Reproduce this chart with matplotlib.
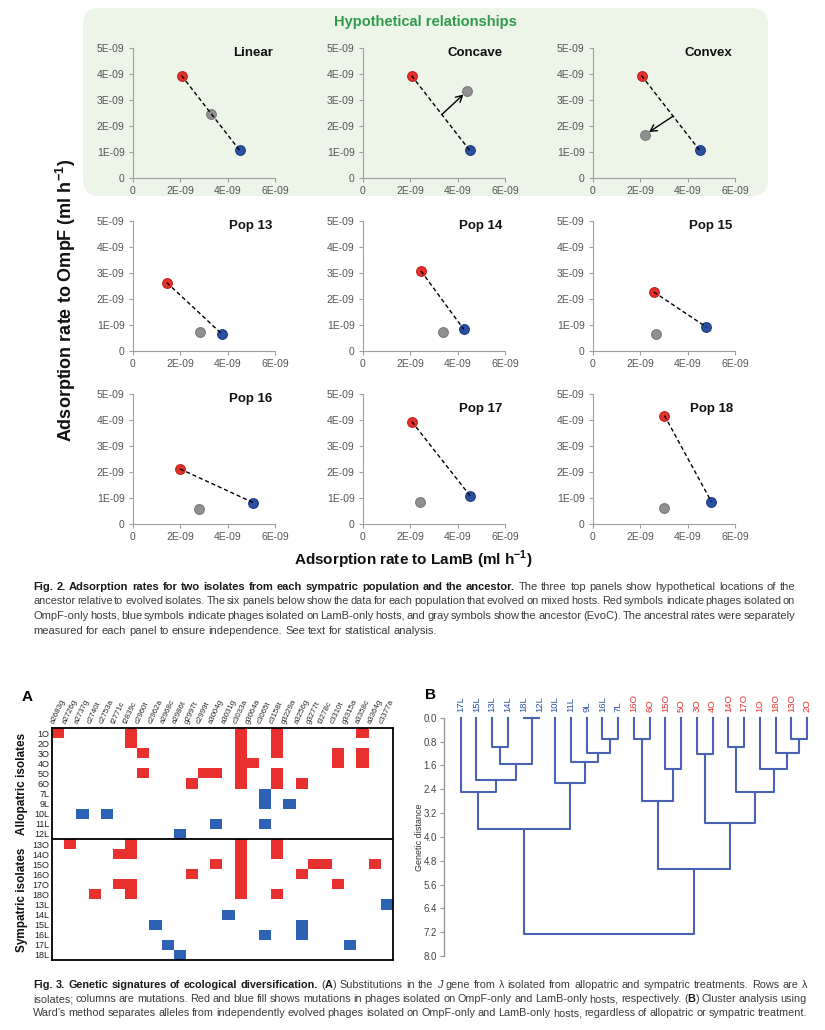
import numpy as np
import matplotlib.pyplot as plt
from matplotlib.patches import FancyBboxPatch
from matplotlib.colors import ListedColormap
from matplotlib.transforms import IdentityTransform

W, H = 825, 1030
NARROW = ['Liberation Sans Narrow', 'Liberation Sans', 'DejaVu Sans']
SANS = ['Liberation Sans', 'DejaVu Sans']
plt.rcParams['font.family'] = NARROW
plt.rcParams['mathtext.fontset'] = 'custom'
plt.rcParams['mathtext.rm'] = 'Liberation Sans'
plt.rcParams['mathtext.bf'] = 'Liberation Sans:bold'

RED, RED_E = '#e8302a', '#c01f1a'
BLUE, BLUE_E = '#2b50a2', '#1b3a84'
GRAY, GRAY_E = '#909090', '#7a7a7a'

# ---------------- Fig. 2 data (units of 1E-09) ----------------
panel_titles = ['Linear', 'Concave', 'Convex', 'Pop 13', 'Pop 14', 'Pop 15',
                'Pop 16', 'Pop 17', 'Pop 18']
title_y = [4.81, 4.81, 4.81, 4.80, 4.80, 4.80, 4.79, 4.43, 4.43]
red_x = [2.05, 2.05, 2.05, 1.43, 2.45, 2.57, 1.98, 2.06, 3.02]
red_y = [3.94, 3.94, 3.94, 2.63, 3.08, 2.27, 2.12, 3.94, 4.17]
anc_x = [3.29, 4.38, 2.18, 2.83, 3.36, 2.66, 2.79, 2.40, 3.02]
anc_y = [2.47, 3.33, 1.67, 0.73, 0.73, 0.64, 0.56, 0.86, 0.60]
blue_x = [4.51, 4.51, 4.51, 3.77, 4.26, 4.79, 5.09, 4.53, 5.00]
blue_y = [1.06, 1.06, 1.06, 0.64, 0.83, 0.92, 0.82, 1.08, 0.86]
# arrows in the hypothetical panels: panel -> (start, end)
arrows = {1: ((3.33, 2.44), (4.24, 3.21)), 2: ((3.37, 2.37), (2.37, 1.77))}
x_ticks = [0, 2, 4, 6]
x_ticklabels = ['0', '2E-09', '4E-09', '6E-09']
y_ticks = [0, 1, 2, 3, 4, 5]
y_ticklabels = ['0', '1E-09', '2E-09', '3E-09', '4E-09', '5E-09']

# ---------------- Fig. 3A data ----------------
mutations = ['a2683g', 'a2726g', 'a2737g', 'c2740t', 'c2753a', 't2771c', 't2839c',
             'c2960t', 'c2962a', 'a2968c', 'a2986t', 'g2997t', 'c2999t', 'a3004g',
             'a3031g', 'c3033a', 'g3064a', 'c3065t', 'c3158t', 'g3229a', 'a3256g',
             'g3277t', 't3278c', 'c3310t', 'g3315a', 'a3358c', 'a3364g', 'c3377a']
isolates = ['1O', '2O', '3O', '4O', '5O', '6O', '7L', '9L', '10L', '11L', '12L',
            '13O', '14O', '15O', '16O', '17O', '18O',
            '13L', '14L', '15L', '16L', '17L', '18L']
n_allopatric = 11
red_hits = {'1O': [0, 6, 15, 18, 25], '2O': [6, 15, 18], '3O': [7, 15, 18, 23, 25],
            '4O': [15, 16, 23, 25], '5O': [7, 12, 13, 15, 18], '6O': [11, 15, 18, 20],
            '13O': [1, 6, 15, 18], '14O': [5, 6, 15, 18], '15O': [13, 15, 21, 22, 26],
            '16O': [11, 15, 20], '17O': [5, 6, 15, 23], '18O': [3, 6, 15, 18]}
blue_hits = {'7L': [17], '9L': [17, 19], '10L': [2, 4], '11L': [13, 17], '12L': [10],
             '13L': [27], '14L': [14], '15L': [8, 20], '16L': [17, 20],
             '17L': [9, 24], '18L': [10]}

# ---------------- Fig. 3B data (Ward clustering) ----------------
leaves = ['17L', '15L', '13L', '14L', '18L', '12L', '10L', '11L', '9L', '16L', '7L',
          '16O', '6O', '15O', '5O', '3O', '4O', '14O', '17O', '1O', '18O', '13O', '2O']
# merge k creates node 23+k
merge_a = [4, 2, 24, 1, 0, 9, 8, 7, 6, 27, 11, 13, 33, 15, 17, 21, 20, 19, 37, 36, 35, 32]
merge_b = [5, 3, 23, 25, 26, 10, 28, 29, 30, 31, 12, 14, 34, 16, 18, 22, 38, 39, 40, 41, 42, 43]
merge_h = [0.0, 1.0, 1.57, 2.10, 2.51, 0.71, 1.17, 1.50, 2.19, 3.73, 0.71, 1.73, 2.78,
           1.22, 1.0, 0.71, 1.17, 1.73, 2.51, 3.54, 5.09, 7.25]

fig = plt.figure(figsize=(W / 100, H / 100), dpi=100)


def px_axes(l, t, r, b):
    return fig.add_axes([l / W, 1 - b / H, (r - l) / W, (b - t) / H])


# green box behind the hypothetical panels
box = FancyBboxPatch((83, H - 196), 685, 188, boxstyle='round,pad=0,rounding_size=16',
                     transform=IdentityTransform(), fc='#edf5e9', ec='none', zorder=-5)
fig.add_artist(box)
fig.text(425 / W, 1 - 22 / H, 'Hypothetical relationships', color='#2f9a4c',
         fontsize=10.5, fontweight='bold', ha='center', va='center')

lefts = [133, 363, 593]
tops = [48, 221, 394]
for k in range(9):
    row, col = divmod(k, 3)
    ax = px_axes(lefts[col], tops[row], lefts[col] + 142, tops[row] + 130)
    ax.set_facecolor('none')
    ax.plot([red_x[k], blue_x[k]], [red_y[k], blue_y[k]], color='k', lw=1,
            ls=(0, (3, 2)), zorder=4)
    ax.plot(red_x[k], red_y[k], 'o', ms=7, mfc=RED, mec=RED_E, mew=0.8, zorder=3)
    ax.plot(anc_x[k], anc_y[k], 'o', ms=7, mfc=GRAY, mec=GRAY_E, mew=0.8, zorder=3)
    ax.plot(blue_x[k], blue_y[k], 'o', ms=7, mfc=BLUE, mec=BLUE_E, mew=0.8, zorder=3)
    if k in arrows:
        s, e = arrows[k]
        ax.annotate('', xy=e, xytext=s,
                    arrowprops=dict(arrowstyle='->,head_length=0.45,head_width=0.25',
                                    color='k', lw=1, shrinkA=0, shrinkB=0))
    ax.text(5.9, title_y[k], panel_titles[k], ha='right', va='center',
            fontsize=9.5, fontweight='bold', color='#111')
    ax.set_xlim(0, 6)
    ax.set_ylim(0, 5)
    ax.set_xticks(x_ticks, x_ticklabels)
    ax.set_yticks(y_ticks, y_ticklabels)
    for s in ['top', 'right']:
        ax.spines[s].set_visible(False)
    for s in ['left', 'bottom']:
        ax.spines[s].set_color('#a0a0a0')
        ax.spines[s].set_linewidth(0.8)
    ax.tick_params(length=3, width=0.8, color='#a0a0a0', labelsize=7.5,
                   labelcolor='#555555', pad=3)

fig.text(66 / W, 1 - 300 / H, r'Adsorption rate to OmpF (ml h$^{\mathbf{-1}}$)',
         rotation=90, ha='center', va='center', fontsize=13, fontweight='bold',
         family=SANS, color='#111')
fig.text(413 / W, 1 - 560 / H, r'Adsorption rate to LamB (ml h$^{\mathbf{-1}}$)',
         ha='center', va='center', fontsize=11, fontweight='bold', color='#111')

# ---------------- caption helper ----------------
renderer = fig.canvas.get_renderer()


def tokens(line):
    words, cur, state = [], [], {'b': False, 'i': False, 'buf': ''}

    def flush():
        if state['buf']:
            cur.append((state['buf'], state['b'], state['i']))
            state['buf'] = ''
    for ch in line:
        if ch == '*':
            flush(); state['b'] = not state['b']
        elif ch == '_':
            flush(); state['i'] = not state['i']
        elif ch == ' ':
            flush()
            if cur:
                words.append(list(cur)); cur.clear()
        else:
            state['buf'] += ch
    flush()
    if cur:
        words.append(list(cur))
    return words


def paragraph(lines, x0, x1, y0, dy, size, justify_last=False):
    for i, line in enumerate(lines):
        y = 1 - (y0 + i * dy) / H
        words = tokens(line)
        # measure at the base size, then pick one size for the whole line
        widths = []
        for w in words:
            ww = []
            for txt, b, it in w:
                t = fig.text(0, 0, txt, fontsize=size,
                             fontweight='bold' if b else 'normal',
                             fontstyle='italic' if it else 'normal')
                ww.append(t.get_window_extent(renderer).width)
                t.remove()
            widths.append(ww)
        total = sum(sum(ww) for ww in widths)
        space = size * 100 / 72 * 0.26
        last = (i == len(lines) - 1) and not justify_last
        fs = size
        if not last and total + space * 0.6 * (len(words) - 1) > x1 - x0:
            f = (x1 - x0 - space * 0.6 * (len(words) - 1)) / total
            fs = size * f
            widths = [[wd * f for wd in ww] for ww in widths]
            total *= f
        gap = space if last else (x1 - x0 - total) / (len(words) - 1)
        x = x0
        for w, ww in zip(words, widths):
            for (txt, b, it), wd in zip(w, ww):
                fig.text(x / W, y, txt, fontsize=fs, va='baseline',
                         fontweight='bold' if b else 'normal',
                         fontstyle='italic' if it else 'normal',
                         color='#1a1a1a' if b else '#3c3c3c')
                x += wd
            x += gap


cap2 = ['*Fig. 2. Adsorption rates for two isolates from each sympatric population and the ancestor.* '
        'The three top panels show hypothetical locations of the',
        'ancestor relative to evolved isolates. The six panels below show the data for each population '
        'that evolved on mixed hosts. Red symbols indicate phages isolated on',
        'OmpF-only hosts, blue symbols indicate phages isolated on LamB-only hosts, and gray symbols '
        'show the ancestor (EvoC). The ancestral rates were separately',
        'measured for each panel to ensure independence. See text for statistical analysis.']
paragraph(cap2, 33, 795, 590, 14.5, 8)

cap3 = ['*Fig. 3. Genetic signatures of ecological diversification.* (*A*) Substitutions in the _J_ '
        'gene from λ isolated from allopatric and sympatric treatments. Rows are λ',
        'isolates; columns are mutations. Red and blue fill shows mutations in phages isolated on '
        'OmpF-only and LamB-only hosts, respectively. (*B*) Cluster analysis using',
        'Ward’s method separates alleles from independently evolved phages isolated on OmpF-only '
        'and LamB-only hosts, regardless of allopatric or sympatric treatment.']
paragraph(cap3, 33, 807, 988, 14, 7.8, justify_last=True)

# ---------------- Fig. 3A heatmap ----------------
M = np.zeros((len(isolates), len(mutations)))
for r, name in enumerate(isolates):
    for c in red_hits.get(name, []):
        M[r, c] = 1
    for c in blue_hits.get(name, []):
        M[r, c] = 2
axA = px_axes(52, 728, 393, 960)
axA.pcolormesh(M, cmap=ListedColormap(['white', '#e8312f', '#2e62b4']), vmin=0, vmax=2)
axA.set_xlim(0, len(mutations))
axA.set_ylim(len(isolates), 0)
axA.axhline(n_allopatric, color='k', lw=1.3)
for s in axA.spines.values():
    s.set_linewidth(1.3)
axA.set_xticks([])
axA.set_yticks(np.arange(len(isolates)) + 0.5, isolates)
axA.tick_params(axis='y', length=0, pad=2, labelsize=6.5, labelcolor='#222')
for lab in axA.get_yticklabels():
    lab.set_family(SANS)
for c, m in enumerate(mutations):
    axA.text(c + 0.3, -0.3, m, rotation=65, rotation_mode='anchor', ha='left', va='bottom',
             fontsize=5.7, color='#2a2a2a', family=SANS, clip_on=False)
axA.text(-2.5, n_allopatric / 2, 'Allopatric isolates', rotation=90, ha='center', va='center',
         fontsize=8.5, fontweight='bold', family=SANS, color='#111')
axA.text(-2.5, (n_allopatric + len(isolates)) / 2, 'Sympatric isolates', rotation=90,
         ha='center', va='center', fontsize=8.5, fontweight='bold', family=SANS, color='#111')
fig.text(27 / W, 1 - 697 / H, 'A', fontsize=11, fontweight='bold', family=SANS,
         ha='center', va='center')

# ---------------- Fig. 3B dendrogram ----------------
axB = px_axes(444, 717.7, 815, 956)
axB.set_facecolor('none')
pos = {i: float(i) for i in range(len(leaves))}
hgt = {i: 0.0 for i in range(len(leaves))}
for k, (a, b, h) in enumerate(zip(merge_a, merge_b, merge_h)):
    xa, xb = pos[a], pos[b]
    axB.plot([xa, xa, xb, xb], [hgt[a], h, h, hgt[b]], color='#4a62b6', lw=1.5,
             clip_on=False)
    pos[len(leaves) + k] = (xa + xb) / 2
    hgt[len(leaves) + k] = h
for i, name in enumerate(leaves):
    axB.text(i, -0.2, name, rotation=90, ha='center', va='bottom', fontsize=6.8,
             family=SANS, color='#2e50a8' if name.endswith('L') else '#e8312f',
             clip_on=False)
axB.set_xlim(-1.06, 22.5)
axB.set_ylim(8.0, 0.0)
dist_ticks = [0.0, 0.8, 1.6, 2.4, 3.2, 4.0, 4.8, 5.6, 6.4, 7.2, 8.0]
axB.set_yticks(dist_ticks, [f'{v:.1f}' for v in dist_ticks])
axB.set_xticks([])
for s in ['top', 'right', 'bottom']:
    axB.spines[s].set_visible(False)
axB.spines['left'].set_color('#999999')
axB.spines['left'].set_linewidth(1)
axB.tick_params(axis='y', length=3, color='#999999', labelsize=7, labelcolor='#444',
                pad=2)
for lab in axB.get_yticklabels():
    lab.set_family(SANS)
fig.text(420 / W, 1 - 837 / H, 'Genetic distance', rotation=90, ha='center', va='center',
         fontsize=6.5, family=SANS, color='#333')
fig.text(431 / W, 1 - 695 / H, 'B', fontsize=11, fontweight='bold', family=SANS,
         ha='center', va='center')

fig.savefig('out.png', dpi=100)
